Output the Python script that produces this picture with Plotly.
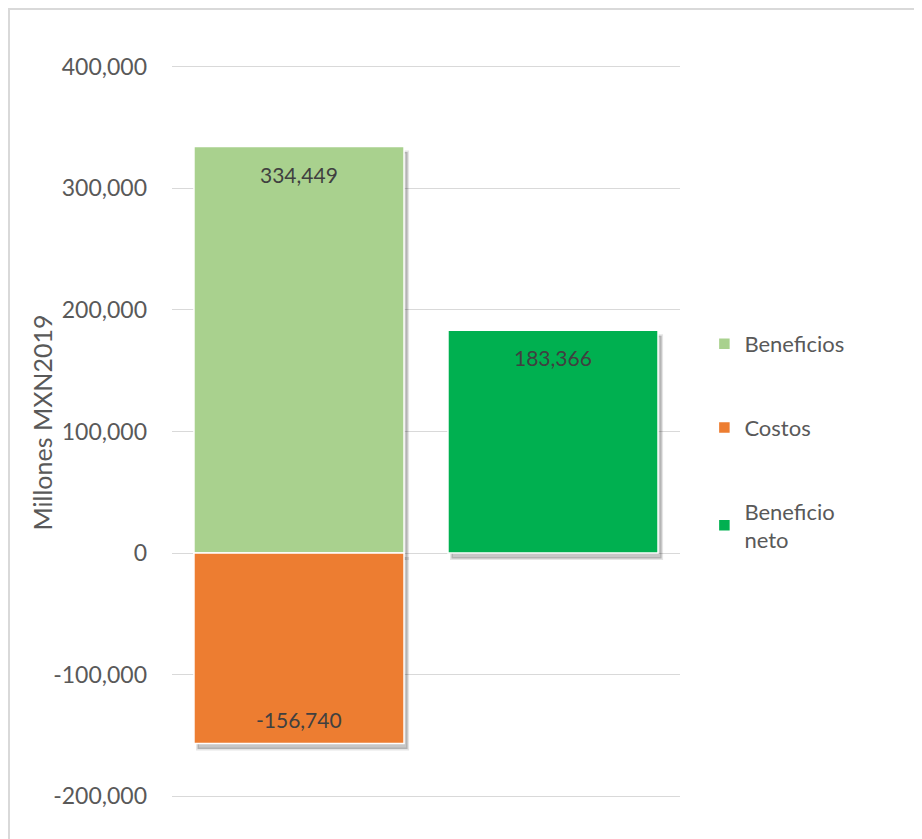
import plotly.graph_objects as go

# categorías (sin etiqueta visible en el eje x)
posiciones = [0, 1]
beneficios = [334449, None]
costos = [-156740, None]
beneficio_neto = [None, 183366]

series = ["Beneficios", "Costos", "Beneficio<br>neto"]
colores = ["#A9D18E", "#ED7D31", "#00B050"]

tick_vals = [-200000, -100000, 0, 100000, 200000, 300000, 400000]
tick_text = ["-200,000", "-100,000", "0", "100,000", "200,000", "300,000", "400,000"]

FONT = "Lato"
GRIS = "#595959"
ANCHO = 0.827

fig = go.Figure()

# sombras: misma barra, desplazada un poco a la derecha y hacia abajo
for vals in (beneficios, costos, beneficio_neto):
    fig.add_trace(go.Bar(
        x=posiciones, y=vals, base=-4500, width=ANCHO, offset=-ANCHO / 2 + 0.014,
        marker=dict(color="rgba(0,0,0,0.22)", line=dict(color="rgba(0,0,0,0.10)", width=3)),
        showlegend=False, hoverinfo="skip",
    ))

for nombre, vals, color in zip(series, (beneficios, costos, beneficio_neto), colores):
    fig.add_trace(go.Bar(
        x=posiciones, y=vals, name=nombre, legendgroup=nombre, width=ANCHO,
        marker=dict(color=color, line=dict(color="white", width=1.5)),
    ))

# etiquetas de datos (extremo interior de cada barra)
anotaciones = []
for vals in (beneficios, costos, beneficio_neto):
    for x, v in zip(posiciones, vals):
        if v is None:
            continue
        anotaciones.append(dict(
            x=x, y=v, text=f"{v:,.0f}", showarrow=False,
            yanchor="top" if v > 0 else "bottom", yshift=-13 if v > 0 else 10,
            font=dict(family=FONT, size=21, color="#404040"),
        ))

# título del eje y
anotaciones.append(dict(
    text="Millones MXN2019", xref="paper", yref="paper", x=-0.254, y=0.5123,
    xanchor="center", yanchor="middle", textangle=-90, showarrow=False,
    font=dict(family=FONT, size=25, color=GRIS),
))

fig.update_layout(
    barmode="overlay",
    width=922, height=839,
    paper_bgcolor="white", plot_bgcolor="white",
    margin=dict(l=164, r=250, t=57, b=49),
    font=dict(family=FONT, size=20, color=GRIS),
    xaxis=dict(range=[-0.5, 1.5], showticklabels=False, showgrid=False,
               zeroline=False, showline=False, ticks=""),
    yaxis=dict(range=[-201500, 401500], tickvals=tick_vals, ticktext=tick_text,
               showgrid=True, gridcolor="#D9D9D9", gridwidth=1.4,
               zeroline=True, zerolinecolor="#D9D9D9", zerolinewidth=1.4,
               showline=False, ticks="", ticklabelstandoff=24,
               tickfont=dict(family=FONT, size=23, color=GRIS)),
    legend=dict(x=1.048, y=0.648, xanchor="left", yanchor="top",
                tracegroupgap=52, itemwidth=30,
                font=dict(family=FONT, size=22, color=GRIS)),
    annotations=anotaciones,
    shapes=[dict(type="rect", xref="paper", yref="paper",
                 x0=-0.3209, y0=-0.08, x1=1.5, y1=1.0764,
                 line=dict(color="#D9D9D9", width=2), layer="below")],
)

fig.write_html("out.html")
